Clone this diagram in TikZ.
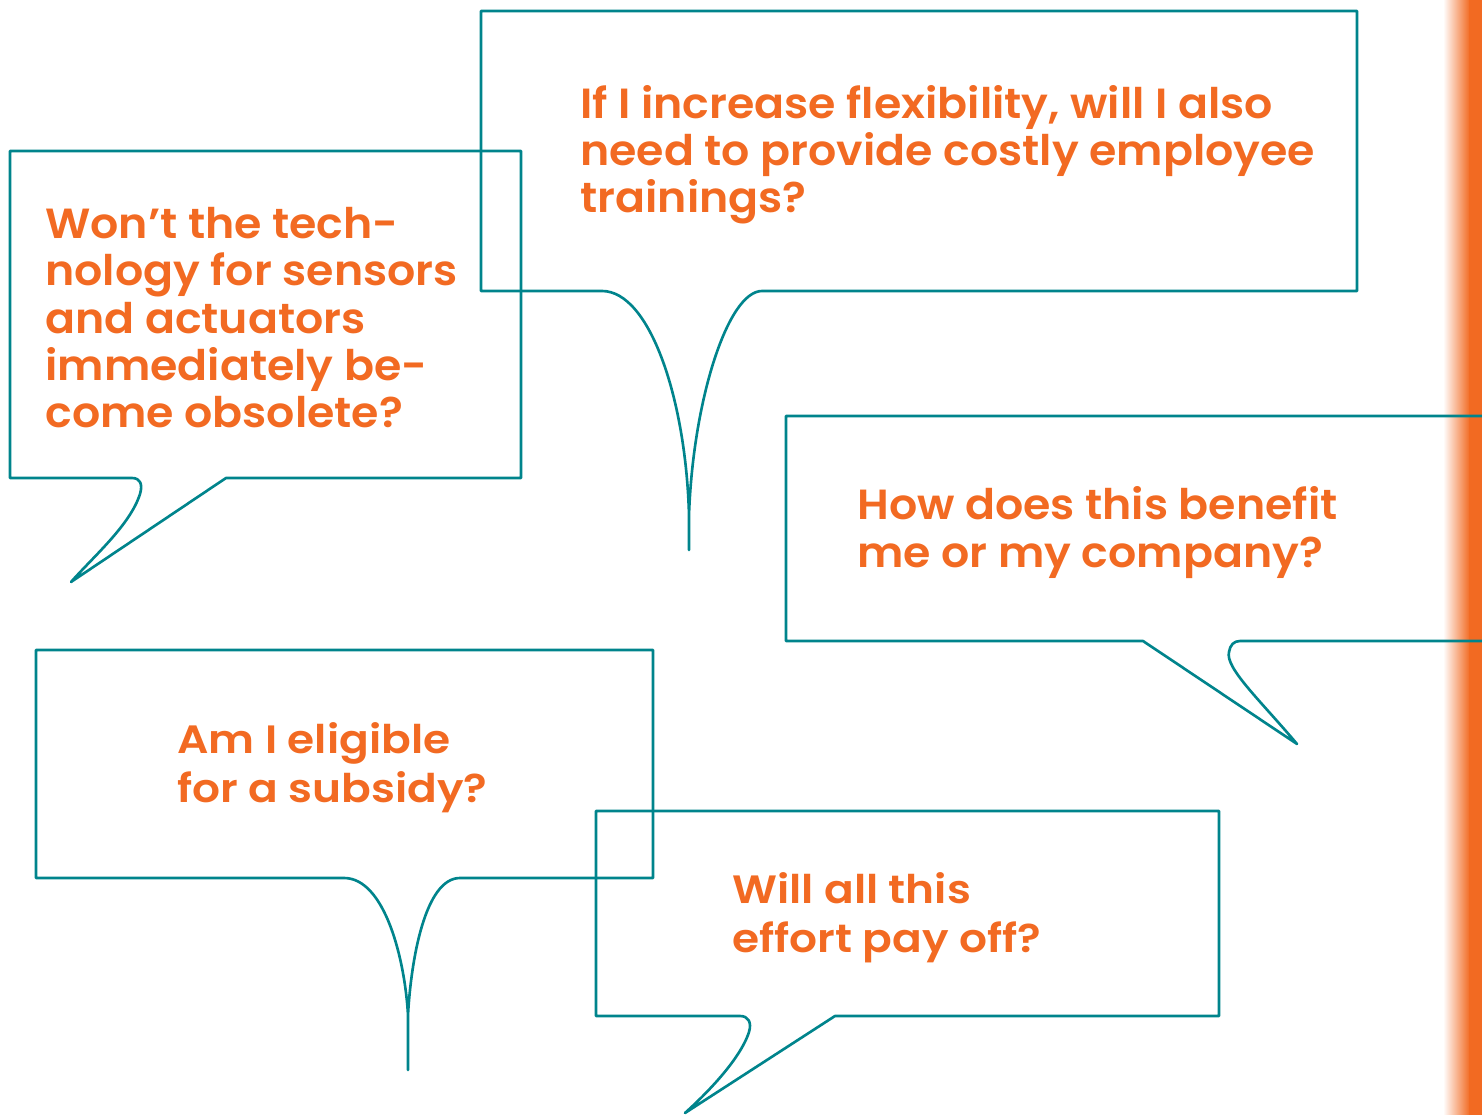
\documentclass[tikz,border=0pt]{standalone}
\usepackage{fontspec}
\setmainfont{Poppins}
\newfontfamily\widefont{Poppins}[UprightFont=* SemiBold, FakeStretch=1.05]
\newfontfamily\narrowfont{Poppins}[UprightFont=* SemiBold, FakeStretch=1.11]
\definecolor{qteal}{HTML}{00848C}
\definecolor{qorange}{HTML}{F26A22}
\tikzset{
    bubble/.style={draw=qteal, line width=1.5pt, line join=round},
    wideq/.style={anchor=base west, align=left, inner sep=0pt, text=qorange,
        font={\widefont\fontsize{24}{27}\selectfont}},
    narrowq/.style={anchor=base west, align=left, inner sep=0pt, text=qorange,
        font={\narrowfont\fontsize{22.5}{27.8}\selectfont}}
}
\begin{document}
\begin{tikzpicture}[x=0.02cm, y=-0.02cm]
    \useasboundingbox (0,0) rectangle (1482,1115);

    % Orange strip at the right edge
    \shade[left color=white, right color=qorange] (1443,0) rectangle (1470,1115);
    \fill[qorange] (1469,0) rectangle (1482,1115);

    % Bubble: flexibility (anchor = last baseline)
    \draw[bubble] (602,291) -- (481,291) -- (481,11) -- (1357,11) -- (1357,291) -- (762,291)
        .. controls (728,291) and (693,400) .. (689,515) -- (689,550) -- (689,515)
        .. controls (686,400) and (650,291) .. (602,291);
    \node[wideq] (flexq) at (580,213) {If I increase flexibility, will I also\\need to provide costly employee\\trainings?};

    % Bubble: technology
    \draw[bubble] (226,478) -- (521,478) -- (521,151) -- (10,151) -- (10,478) -- (132,478)
        .. controls (140,478) and (143,484) .. (140,494)
        .. controls (130,525) and (95,555) .. (71,582) -- cycle;
    \node[wideq] (techq) at (45,428) {Won’t the tech-\\nology for sensors\\and actuators\\immediately be-\\come obsolete?};

    % Bubble: benefit
    \draw[bubble] (1482,416) -- (786,416) -- (786,641) -- (1143,641) -- (1297,744)
        .. controls (1260,700) and (1225,668) .. (1229,652)
        .. controls (1230,645) and (1234,641) .. (1240,641) -- (1482,641);
    \node[wideq] (benefitq) at (857,567) {How does this benefit\\me or my company?};

    % Bubble: subsidy
    \draw[bubble] (344,878) -- (36,878) -- (36,650) -- (653,650) -- (653,878) -- (460,878)
        .. controls (425,878) and (411,960) .. (408,1015) -- (408,1070) -- (408,1015)
        .. controls (405,960) and (385,878) .. (344,878);
    \node[narrowq] (subsidyq) at (177,802) {Am I eligible\\for a subsidy?};

    % Bubble: effort
    \draw[bubble] (835,1016) -- (1219,1016) -- (1219,811) -- (596,811) -- (596,1016) -- (740,1016)
        .. controls (748,1016) and (752,1022) .. (749,1032)
        .. controls (740,1060) and (705,1095) .. (685,1113) -- cycle;
    \node[narrowq] (effortq) at (732,952) {Will all this\\effort pay off?};
\end{tikzpicture}
\end{document}
